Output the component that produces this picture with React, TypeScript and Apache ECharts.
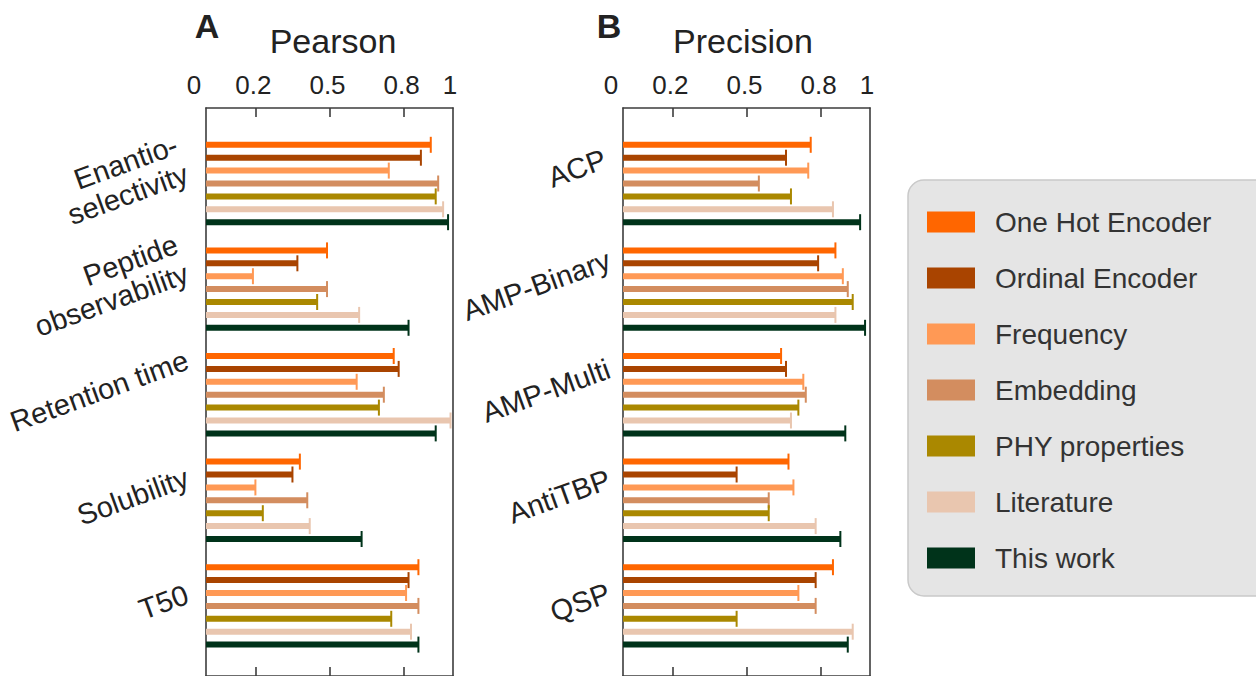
import React, { useEffect, useRef } from 'react';
import * as echarts from 'echarts';

// ---------- data ----------
const methods = [
  'One Hot Encoder',
  'Ordinal Encoder',
  'Frequency',
  'Embedding',
  'PHY properties',
  'Literature',
  'This work',
];
const methodColors = ['#FF6600', '#A94400', '#FF9955', '#D38D5F', '#AA8800', '#E9C6AF', '#00331A'];

const pearsonCategories = ['Enantio-\nselectivity', 'Peptide\nobservability', 'Retention time', 'Solubility', 'T50'];
const precisionCategories = ['ACP', 'AMP-Binary', 'AMP-Multi', 'AntiTBP', 'QSP'];

// Pearson (Enantio, Peptide, Retention, Solubility, T50)
const pearsonOneHot = [0.91, 0.49, 0.76, 0.38, 0.86];
const pearsonOrdinal = [0.87, 0.37, 0.78, 0.35, 0.82];
const pearsonFrequency = [0.74, 0.19, 0.61, 0.2, 0.81];
const pearsonEmbedding = [0.94, 0.49, 0.72, 0.41, 0.86];
const pearsonPhy = [0.93, 0.45, 0.7, 0.23, 0.75];
const pearsonLiterature = [0.96, 0.62, 0.99, 0.42, 0.83];
const pearsonThisWork = [0.98, 0.82, 0.93, 0.63, 0.86];

// Precision (ACP, AMP-Binary, AMP-Multi, AntiTBP, QSP)
const precisionOneHot = [0.76, 0.86, 0.64, 0.67, 0.85];
const precisionOrdinal = [0.66, 0.79, 0.66, 0.46, 0.78];
const precisionFrequency = [0.75, 0.89, 0.73, 0.69, 0.71];
const precisionEmbedding = [0.55, 0.91, 0.74, 0.59, 0.78];
const precisionPhy = [0.68, 0.93, 0.71, 0.59, 0.46];
const precisionLiterature = [0.85, 0.86, 0.68, 0.78, 0.93];
const precisionThisWork = [0.96, 0.98, 0.9, 0.88, 0.91];

const pearsonSeries = [pearsonOneHot, pearsonOrdinal, pearsonFrequency, pearsonEmbedding, pearsonPhy, pearsonLiterature, pearsonThisWork];
const precisionSeries = [precisionOneHot, precisionOrdinal, precisionFrequency, precisionEmbedding, precisionPhy, precisionLiterature, precisionThisWork];

const tickValues = [0, 0.2, 0.5, 0.8, 1];
const tickLabels = ['0', '0.2', '0.5', '0.8', '1'];
const innerTicks = [0.2, 0.5, 0.8];

// ---------- style ----------
const FONT = '"Liberation Sans", Arial, Helvetica, sans-serif';
const AXIS_COLOR = '#3d3d3d';
const TEXT_COLOR = '#222222';
const TICK_FONT = 26;
const CAT_FONT = 29;
const CAT_LH = 31;
const CAT_LIFT = 4; // lift of the label along its own vertical
const EXTRA_LIFT: Record<string, number> = { ACP: 12 };
const ROT = 20;
const BAR_STEP = 12.9;
const BAR_H = 6;
const CAP_H = 16;
const SIN = Math.sin((ROT * Math.PI) / 180);
const COS = Math.cos((ROT * Math.PI) / 180);

function measure(text: string, size: number): number {
  const ctx = document.createElement('canvas').getContext('2d');
  if (!ctx) return text.length * size * 0.5;
  ctx.font = `${size}px "Liberation Sans", Arial, sans-serif`;
  return Math.max(...text.split('\n').map((l) => ctx.measureText(l).width));
}

// Rotated label is centred on the anchor; padding moves its centre left along the row,
// so that its right end sits `gap` px left of the axis.
function catRich(cats: string[], gap: number) {
  const rich: Record<string, any> = {};
  cats.forEach((c, i) => {
    const w = measure(c, CAT_FONT);
    const n = c.split('\n').length;
    const halfVis = ((n - 1) * CAT_LH) / 2 + 0.35 * CAT_FONT;
    const dx = gap + (w / 2) * COS + halfVis * SIN;
    const lift = CAT_LIFT + (EXTRA_LIFT[c] || 0);
    rich[`c${i}`] = {
      fontSize: CAT_FONT,
      fontFamily: FONT,
      color: TEXT_COLOR,
      lineHeight: CAT_LH,
      align: 'right',
      padding: [0, Math.round(2 * dx * COS), Math.round(2 * dx * SIN + 2 * lift), 0],
    };
  });
  return rich;
}

const tickRich = {
  z: { fontSize: TICK_FONT, fontFamily: FONT, color: TEXT_COLOR, padding: [0, 24, 0, 0] },
  o: { fontSize: TICK_FONT, fontFamily: FONT, color: TEXT_COLOR, padding: [0, 6, 0, 0] },
  n: { fontSize: TICK_FONT, fontFamily: FONT, color: TEXT_COLOR, padding: [0, 4, 0, 0] },
};

function tickFormatter(v: number) {
  const i = tickValues.findIndex((t) => Math.abs(t - v) < 1e-9);
  const t = i >= 0 ? tickLabels[i] : String(v);
  if (i === 0) return `{z|${t}}`;
  if (i === tickValues.length - 1) return `{o|${t}}`;
  return `{n|${t}}`;
}

function frameXAxis(gridIndex: number, position: 'top' | 'bottom') {
  return {
    type: 'value',
    gridIndex,
    position,
    min: 0,
    max: 1,
    axisLine: { show: true, onZero: false, lineStyle: { color: AXIS_COLOR, width: 1.6 } },
    axisTick: {
      show: true,
      inside: true,
      length: 9,
      customValues: innerTicks,
      lineStyle: { color: AXIS_COLOR, width: 1.6 },
    },
    axisLabel: position === 'top'
      ? {
          show: true,
          customValues: tickValues,
          margin: 10,
          fontSize: TICK_FONT,
          fontFamily: FONT,
          color: TEXT_COLOR,
          formatter: tickFormatter,
          rich: tickRich,
        }
      : { show: false },
    splitLine: { show: false },
  };
}

function frameYAxis(gridIndex: number, position: 'left' | 'right') {
  return {
    type: 'value',
    gridIndex,
    position,
    min: 0,
    max: 1,
    axisLine: { show: true, onZero: false, lineStyle: { color: AXIS_COLOR, width: 1.6 } },
    axisTick: { show: false },
    axisLabel: { show: false },
    splitLine: { show: false },
  };
}

function catYAxis(gridIndex: number, cats: string[], gap: number) {
  return {
    type: 'category',
    gridIndex,
    inverse: true,
    data: cats,
    axisLine: { show: false },
    axisTick: { show: false },
    splitLine: { show: false },
    axisLabel: {
      rotate: ROT,
      margin: 0,
      interval: 0,
      align: 'center',
      verticalAlign: 'middle',
      fontSize: CAT_FONT,
      lineHeight: CAT_LH,
      fontFamily: FONT,
      color: TEXT_COLOR,
      formatter: (value: string, index: number) => `{c${index}|${value}}`,
      rich: catRich(cats, gap),
    },
  };
}

function makeSeries(values: number[], mIdx: number, axisIndex: number) {
  const color = methodColors[mIdx];
  return {
    type: 'custom',
    name: methods[mIdx],
    xAxisIndex: axisIndex,
    yAxisIndex: axisIndex,
    itemStyle: { color },
    encode: { x: 0, y: 1 },
    data: values.map((v, c) => [v, c]),
    renderItem: (_params: any, api: any) => {
      const v = api.value(0);
      const c = api.value(1);
      const end = api.coord([v, c]);
      const start = api.coord([0, c]);
      const y = end[1] + (mIdx - (methods.length - 1) / 2) * BAR_STEP;
      return {
        type: 'group',
        children: [
          {
            type: 'rect',
            shape: { x: start[0], y: y - BAR_H / 2, width: end[0] - start[0], height: BAR_H },
            style: { fill: color },
          },
          {
            type: 'line',
            shape: { x1: end[0], y1: y - CAP_H / 2, x2: end[0], y2: y + CAP_H / 2 },
            style: { stroke: color, lineWidth: 2 },
          },
        ],
      };
    },
  };
}

function titleText(text: string, x: number, y: number, bold: boolean) {
  return {
    type: 'text',
    x,
    y,
    z: 10,
    style: {
      text,
      fontSize: 34,
      fontWeight: bold ? 'bold' : 'normal',
      fontFamily: FONT,
      fill: TEXT_COLOR,
      align: 'center',
      verticalAlign: 'middle',
      textAlign: 'center',
      textVerticalAlign: 'middle',
    },
  };
}

export default function App() {
  const ref = useRef<HTMLDivElement>(null);

  useEffect(() => {
    document.body.style.margin = '0';
    if (!ref.current) return;
    const chart = echarts.init(ref.current, undefined, { renderer: 'svg' });

    const option: any = {
      animation: false,
      backgroundColor: '#ffffff',
      grid: [
        { left: 206, top: 108, width: 247, height: 568, outerBoundsMode: 'none' },
        { left: 206, top: 130.7, width: 247, height: 528, outerBoundsMode: 'none' },
        { left: 623, top: 108, width: 247, height: 568, outerBoundsMode: 'none' },
        { left: 623, top: 130.7, width: 247, height: 528, outerBoundsMode: 'none' },
      ],
      xAxis: [
        frameXAxis(0, 'top'),
        frameXAxis(0, 'bottom'),
        { type: 'value', gridIndex: 1, min: 0, max: 1, show: false },
        frameXAxis(2, 'top'),
        frameXAxis(2, 'bottom'),
        { type: 'value', gridIndex: 3, min: 0, max: 1, show: false },
      ],
      yAxis: [
        frameYAxis(0, 'left'),
        frameYAxis(0, 'right'),
        catYAxis(1, pearsonCategories, 14),
        frameYAxis(2, 'left'),
        frameYAxis(2, 'right'),
        catYAxis(3, precisionCategories, 9),
      ],
      legend: {
        orient: 'vertical',
        left: 927,
        top: 208,
        padding: 0,
        itemWidth: 48,
        itemHeight: 21,
        itemGap: 28,
        selectedMode: false,
        icon: 'rect',
        data: methods,
        z: 10,
        textStyle: {
          fontSize: 28,
          color: '#333333',
          fontFamily: FONT,
          lineHeight: 15,
          padding: [0, 0, 6, 15],
        },
      },
      graphic: [
        {
          type: 'rect',
          z: 0,
          shape: { x: 908, y: 180, width: 400, height: 416, r: 16 },
          style: { fill: '#e5e5e5', stroke: '#c9c9c9', lineWidth: 1.5 },
        },
        titleText('A', 207, 26, true),
        titleText('Pearson', 333, 41, false),
        titleText('B', 609, 26, true),
        titleText('Precision', 743, 41, false),
      ],
      series: [
        ...pearsonSeries.map((vals, i) => makeSeries(vals, i, 2)),
        ...precisionSeries.map((vals, i) => makeSeries(vals, i, 5)),
      ],
    };

    chart.setOption(option);
    return () => chart.dispose();
  }, []);

  return <div ref={ref} style={{ width: 1256, height: 676 }} />;
}
